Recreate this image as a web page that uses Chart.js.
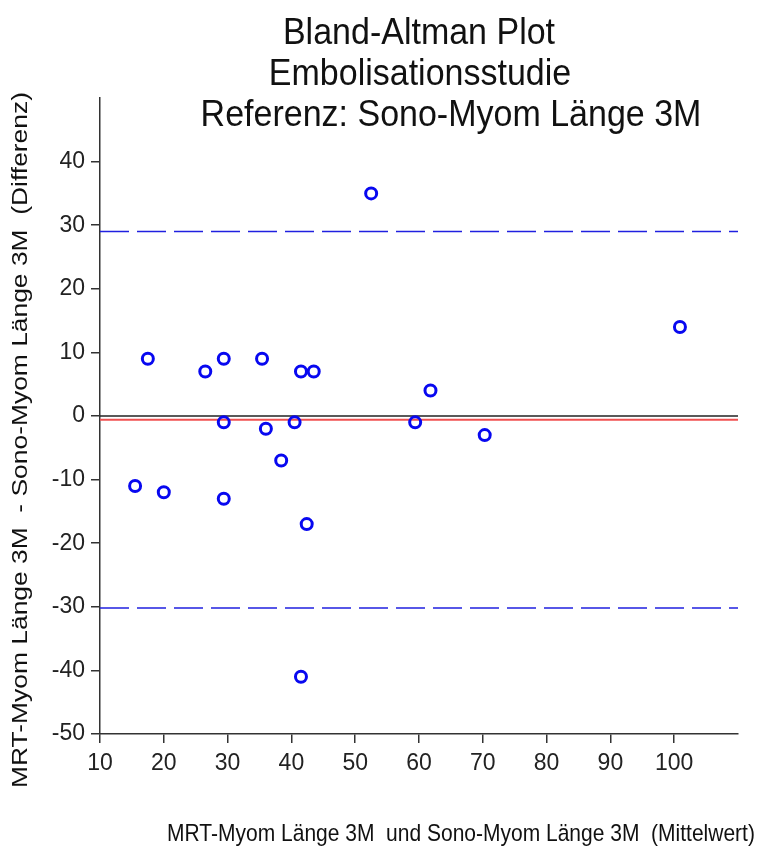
<!DOCTYPE html>
<html>
<head>
<meta charset="utf-8">
<script src="https://cdn.jsdelivr.net/npm/chart.js@4"></script>
<style>
  body { margin: 0; background: #fff; }
  #wrap { width: 764px; height: 850px; }
</style>
</head>
<body>
<div id="wrap"><canvas id="myChart" width="764" height="850"></canvas></div>
<script>
  // Mittelwert (x) und Differenz (y)
  var mittelwert = [52.5, 17.5, 26.5, 29.4, 35.4, 41.5, 43.5, 61.8, 100.9, 29.4, 36, 40.5, 59.4, 70.3, 38.4, 15.5, 20, 29.4, 42.4, 41.5]
  var differenz  = [35, 9, 7, 9, 9, 7, 7, 4, 14, -1, -2, -1, -1, -3, -7, -11, -12, -13, -17, -41]

  var mittlereDiff = -0.6
  var obereGrenze = 29
  var untereGrenze = -30.2

  var xMin = 10, xMax = 110
  var yMin = -50, yMax = 50

  var titel = ["Bland-Altman Plot", "Embolisationsstudie", "Referenz: Sono-Myom Länge 3M"]
  var xTitel = "MRT-Myom Länge 3M  und Sono-Myom Länge 3M  (Mittelwert)"
  var yTitel = "MRT-Myom Länge 3M  - Sono-Myom Länge 3M  (Differenz)"

  var punkte = mittelwert.map(function (m, i) { return { x: m, y: differenz[i] } })

  function linie(y) {
    return [{ x: xMin, y: y }, { x: xMax, y: y }]
  }

  var schrift = "'Liberation Sans', Arial, sans-serif"

  // Text leicht gestreckt schreiben, wie im Original
  function schreib(ctx, text, x, y, breite, hoehe) {
    ctx.save()
    ctx.translate(x, y)
    ctx.scale(breite, hoehe)
    ctx.fillText(text, 0, 0)
    ctx.restore()
  }

  var texte = {
    id: "texte",
    afterDraw: function (chart) {
      var ctx = chart.ctx
      ctx.save()
      ctx.fillStyle = "#111"
      ctx.textBaseline = "middle"
      ctx.textAlign = "center"
      ctx.font = "34px " + schrift
      schreib(ctx, titel[0], 419, 34, 1, 1.1)
      schreib(ctx, titel[1], 420, 75, 1, 1.1)
      schreib(ctx, titel[2], 451, 116, 1, 1.1)

      ctx.font = "21px " + schrift
      schreib(ctx, xTitel, 461, 834, 1, 1.15)

      ctx.translate(21, 440)
      ctx.rotate(-Math.PI / 2)
      ctx.font = "22px " + schrift
      schreib(ctx, yTitel, 0, 0, 1.2, 1)
      ctx.restore()
    }
  }

  function ohneMax(scale) {
    scale.ticks = scale.ticks.filter(function (t) { return t.value < scale.max })
  }

  var ctx = document.getElementById("myChart").getContext("2d")
  var myChart = new Chart(ctx, {
    type: "scatter",
    data: {
      datasets: [
        {
          label: "Differenz",
          data: punkte,
          pointStyle: "circle",
          pointRadius: 5.5,
          pointBorderWidth: 3,
          borderColor: "#0808f0",
          backgroundColor: "rgba(0,0,0,0)",
        },
        {
          type: "line",
          data: linie(mittlereDiff),
          borderColor: "#f05050",
          borderWidth: 2,
          pointRadius: 0,
        },
        {
          type: "line",
          data: linie(0),
          borderColor: "#222",
          borderWidth: 1.5,
          pointRadius: 0,
        },
        {
          type: "line",
          data: linie(obereGrenze),
          borderColor: "#2020e0",
          borderWidth: 1.5,
          borderDash: [29, 8],
          pointRadius: 0,
        },
        {
          type: "line",
          data: linie(untereGrenze),
          borderColor: "#2020e0",
          borderWidth: 1.5,
          borderDash: [29, 8],
          pointRadius: 0,
        },
      ],
    },
    options: {
      responsive: false,
      animation: false,
      layout: { padding: { top: 98, right: 26, left: 0, bottom: 0 } },
      plugins: {
        legend: { display: false },
        tooltip: { enabled: false },
      },
      scales: {
        x: {
          type: "linear",
          min: xMin,
          max: xMax,
          afterBuildTicks: ohneMax,
          afterFit: function (s) { s.height = 116 },
          ticks: { stepSize: 10, color: "#222", padding: 7, font: { size: 23, family: schrift } },
          grid: { drawOnChartArea: false, tickLength: 9, color: "#333", lineWidth: 1.5 },
          border: { color: "#333", width: 1.5 },
        },
        y: {
          min: yMin,
          max: yMax,
          afterBuildTicks: ohneMax,
          afterFit: function (s) { s.width = 100 },
          ticks: { stepSize: 10, color: "#222", padding: 6, font: { size: 23, family: schrift } },
          grid: { drawOnChartArea: false, tickLength: 9, color: "#333", lineWidth: 1.5 },
          border: { color: "#333", width: 1.5 },
        },
      },
    },
    plugins: [texte],
  })
</script>
</body>
</html>
